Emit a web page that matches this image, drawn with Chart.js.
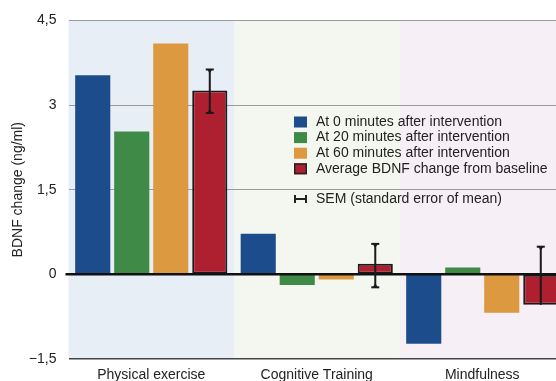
<!DOCTYPE html>
<html>
<head>
<meta charset="utf-8">
<script src="https://cdn.jsdelivr.net/npm/chart.js@4/dist/chart.umd.min.js"></script>
<style>
  html, body { margin: 0; padding: 0; background: #fff; overflow: hidden; }
  #wrap { width: 565px; height: 381px; }
</style>
</head>
<body>
<div id="wrap"><canvas id="bdnfChart" width="565" height="381"></canvas></div>
<script>
// categories and series
const categories = ['Physical exercise', 'Cognitive Training', 'Mindfulness'];
const seriesLabels = [
    'At 0 minutes after intervention',
    'At 20 minutes after intervention',
    'At 60 minutes after intervention',
    'Average BDNF change from baseline'
];
const at0 = [3.53, 0.72, -1.23];
const at20 = [2.53, -0.19, 0.12];
const at60 = [4.09, -0.09, -0.68];
const average = [3.26, 0.19, -0.54];
// SEM whiskers of the average bars (upper / lower end)
const semHigh = [3.63, 0.54, 0.49];
const semLow = [2.86, -0.23, -0.54];
const yTicks = [-1.5, 0, 1.5, 3, 4.5];

const colors = ['#1d4c8d', '#3f8a46', '#dc993f', '#ae1f30'];
const bandColors = ['#e7eef6', '#f4f7ef', '#f6eff6'];
const FONT = '"Liberation Sans", Arial, Helvetica, sans-serif';
const TEXT = '#222';

// coloured background band behind each group
const bandPlugin = {
    id: 'bands',
    beforeDraw(chart) {
        const { ctx, chartArea, scales } = chart;
        const x = scales.x;
        const half = (x.getPixelForValue(1) - x.getPixelForValue(0)) / 2;
        ctx.save();
        categories.forEach((c, i) => {
            const cx = x.getPixelForValue(i);
            ctx.fillStyle = bandColors[i];
            ctx.fillRect(cx - half, chartArea.top, half * 2, chartArea.bottom - chartArea.top);
        });
        ctx.restore();
    }
};

// zero line, error bars and in-plot legend
const overlayPlugin = {
    id: 'overlay',
    afterDatasetsDraw(chart) {
        const { ctx, chartArea, scales } = chart;
        const y = scales.y;
        ctx.save();
        // zero line
        const y0 = y.getPixelForValue(0);
        ctx.strokeStyle = '#111';
        ctx.lineWidth = 2.5;
        ctx.beginPath();
        ctx.moveTo(chartArea.left - 3, y0);
        ctx.lineTo(chartArea.right, y0);
        ctx.stroke();

        // SEM error bars on the average series
        const meta = chart.getDatasetMeta(3);
        ctx.strokeStyle = '#1a1a1a';
        ctx.fillStyle = '#1a1a1a';
        meta.data.forEach((bar, i) => {
            const yh = y.getPixelForValue(semHigh[i]);
            const yl = y.getPixelForValue(semLow[i]);
            ctx.lineWidth = 2;
            ctx.beginPath();
            ctx.moveTo(bar.x, yh);
            ctx.lineTo(bar.x, yl);
            ctx.stroke();
            [[semHigh[i], yh, 1], [semLow[i], yl, -1]].forEach(([v, py, dir]) => {
                if (Math.abs(v - average[i]) < 0.001) return;
                ctx.lineWidth = 2;
                ctx.beginPath();
                ctx.moveTo(bar.x - 4, py);
                ctx.lineTo(bar.x + 4, py);
                ctx.stroke();
                ctx.beginPath();
                ctx.moveTo(bar.x - 2.5, py);
                ctx.lineTo(bar.x + 2.5, py);
                ctx.lineTo(bar.x, py + dir * 4);
                ctx.closePath();
                ctx.fill();
            });
        });
        ctx.restore();
    },
    afterDraw(chart) {
        const { ctx } = chart;
        ctx.save();
        ctx.font = '14px ' + FONT;
        ctx.textBaseline = 'middle';
        ctx.fillStyle = TEXT;
        const bx = 294, tx = 316;
        seriesLabels.forEach((lab, i) => {
            const cy = 122 + i * 15.6;
            ctx.fillStyle = colors[i];
            ctx.fillRect(bx, cy - 5.5, 13, 11);
            if (i === 3) {
                ctx.strokeStyle = '#222';
                ctx.lineWidth = 1.5;
                ctx.strokeRect(bx + 0.75, cy - 4.75, 11.5, 9.5);
            }
            ctx.fillStyle = TEXT;
            ctx.fillText(lab, tx, cy);
        });
        // SEM legend entry
        const sy = 199;
        ctx.strokeStyle = '#222';
        ctx.lineWidth = 2;
        ctx.beginPath();
        ctx.moveTo(bx + 1, sy);
        ctx.lineTo(bx + 12, sy);
        ctx.moveTo(bx + 1, sy - 4);
        ctx.lineTo(bx + 1, sy + 4);
        ctx.moveTo(bx + 12, sy - 4);
        ctx.lineTo(bx + 12, sy + 4);
        ctx.stroke();
        ctx.fillStyle = TEXT;
        ctx.fillText('SEM (standard error of mean)', tx, sy);
        ctx.restore();
    }
};

function fmt(v) {
    return String(v).replace('.', ',').replace('-', '\u2212');
}

new Chart(document.getElementById('bdnfChart'), {
    type: 'bar',
    data: {
        labels: categories,
        datasets: [
            { label: seriesLabels[0], data: at0, backgroundColor: colors[0], borderWidth: 0 },
            { label: seriesLabels[1], data: at20, backgroundColor: colors[1], borderWidth: 0 },
            { label: seriesLabels[2], data: at60, backgroundColor: colors[2], borderWidth: 0 },
            { label: seriesLabels[3], data: average, backgroundColor: colors[3],
              borderColor: '#1a1a1a', borderWidth: 2, borderSkipped: false }
        ]
    },
    options: {
        responsive: false,
        maintainAspectRatio: false,
        animation: false,
        devicePixelRatio: 1,
        categoryPercentage: 0.943,
        barPercentage: 0.9,
        layout: { padding: { top: 17, right: 0, left: 0, bottom: 0 } },
        plugins: {
            legend: { display: false },
            tooltip: { enabled: false }
        },
        scales: {
            x: {
                grid: { display: false, drawTicks: false },
                border: { display: false },
                ticks: { color: TEXT, font: { family: FONT, size: 14 }, padding: 8 },
                afterFit(scale) { scale.height = 22; }
            },
            y: {
                min: -1.5,
                max: 4.5,
                afterBuildTicks(scale) { scale.ticks = yTicks.map(v => ({ value: v })); },
                grid: {
                    drawTicks: false,
                    color(c) {
                        if (c.tick && c.tick.value === 0) return 'rgba(0,0,0,0)';
                        if (c.tick && c.tick.value === -1.5) return '#444';
                        return '#9a9a9a';
                    },
                    lineWidth(c) { return c.tick && c.tick.value === -1.5 ? 1.5 : 1; }
                },
                border: { display: false },
                ticks: {
                    color: TEXT,
                    font: { family: FONT, size: 14 },
                    padding: 12,
                    callback: v => fmt(v)
                },
                title: {
                    display: true,
                    text: 'BDNF change (ng/ml)',
                    color: TEXT,
                    font: { family: FONT, size: 14 },
                    padding: { top: 10, bottom: 0 }
                },
                afterFit(scale) { scale.width = 68.5; }
            }
        }
    },
    plugins: [bandPlugin, overlayPlugin]
});
</script>
</body>
</html>
